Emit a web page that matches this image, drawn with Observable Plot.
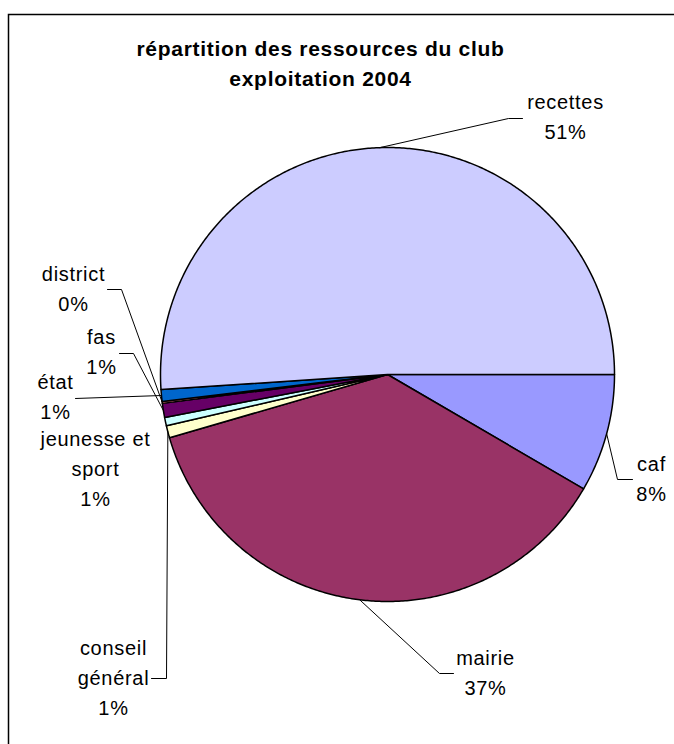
<!DOCTYPE html>
<html><head><meta charset="utf-8">
<script src="https://cdn.jsdelivr.net/npm/d3@7"></script>
<script src="https://cdn.jsdelivr.net/npm/@observablehq/plot@0.6"></script>
<style>
html,body{margin:0;padding:0;background:#fff;overflow:hidden;}
#chart svg{max-width:none !important;}
</style></head><body><div id="chart"></div>
<script>
// ---- data ----
const categories = ["caf", "mairie", "conseil général", "jeunesse et sport", "fas", "district", "état", "recettes"];
const labelNames = ["caf", "mairie", "conseil\ngénéral", "jeunesse et\nsport", "fas", "district", "état", "recettes"];
const values = [8.4, 37.1, 0.86, 0.6, 1.0, 0.14, 0.83, 51.05];
const colors = ["#9999FF", "#993366", "#FFFFCC", "#CCFFFF", "#660066", "#FF8080", "#0066CC", "#CCCCFF"];
const titleLines = ["répartition des ressources du club", "exploitation 2004"];

// ---- layout (pixels) ----
const W = 690, H = 760;
const CX = 387, CY = 374, R = 227;
const FONT = 'Arial, "Liberation Sans", sans-serif';
const titlePos = {x: 320, y: 85};
// label: center x, baseline of last line; leader: points after the pie edge
const labelLayout = {
  "caf": {x: 651, y: 500, leader: [[617, 479], [632, 479]]},
  "mairie": {x: 485, y: 694, leader: [[439, 673], [453, 673]]},
  "conseil général": {x: 113, y: 714, leader: [[166, 678], [151, 678]]},
  "jeunesse et sport": {x: 95, y: 505, leader: null},
  "fas": {x: 101, y: 373, leader: [[133, 353], [119, 353]]},
  "district": {x: 73, y: 310, leader: [[121, 289], [107, 289]]},
  "état": {x: 55, y: 418, leader: [[75, 398]]},
  "recettes": {x: 565, y: 138, leader: [[508, 118], [522, 118]]}
};
const px = (x) => (x - CX) / R;
const py = (y) => (y - CY) / R;

// ---- geometry from values ----
const total = d3.sum(values);
const ends = Array.from(d3.cumsum(values), (c) => c / total * 2 * Math.PI);
const starts = [0, ...ends.slice(0, -1)];

const slices = categories.map((c, i) => {
  const a0 = starts[i], a1 = ends[i];
  const n = Math.max(2, Math.ceil((a1 - a0) / (Math.PI / 360)));
  const pts = [{x: 0, y: 0}];
  for (let k = 0; k <= n; ++k) {
    const a = a0 + (a1 - a0) * k / n;
    pts.push({x: Math.cos(a), y: Math.sin(a)});
  }
  pts.push({x: 0, y: 0});
  return pts;
});

const labels = categories.map((c, i) => {
  const L = labelLayout[c];
  return {
    x: px(L.x), y: py(L.y),
    text: labelNames[i] + "\n" + Math.round(values[i] / total * 100) + "%"
  };
});

const leaders = categories.map((c, i) => {
  const L = labelLayout[c];
  if (!L.leader) return null;
  const mid = (starts[i] + ends[i]) / 2;
  return [{x: Math.cos(mid), y: Math.sin(mid)}, ...L.leader.map(([x, y]) => ({x: px(x), y: py(y)}))];
}).filter(Boolean);

const chart = Plot.plot({
  width: W, height: H,
  marginLeft: 8, marginTop: 14, marginRight: 0, marginBottom: 0,
  style: {fontFamily: FONT, background: "#fff", letterSpacing: "0.7px", maxWidth: "none"},
  x: {domain: [-1, 1], range: [CX - R, CX + R], axis: null},
  y: {domain: [-1, 1], range: [CY - R, CY + R], axis: null},
  marks: [
    Plot.frame({stroke: "#000", strokeWidth: 1.5}),
    ...slices.map((pts, i) => Plot.line(pts, {x: "x", y: "y", fill: colors[i], stroke: "#000", strokeWidth: 1.5, strokeLinejoin: "round"})),
    ...leaders.map((pts) => Plot.line(pts, {x: "x", y: "y", stroke: "#000", strokeWidth: 1})),
    Plot.text(labels, {x: "x", y: "y", text: "text", fontSize: 20, lineHeight: 1.5, lineAnchor: "bottom", textAnchor: "middle", fill: "#000"}),
    Plot.text([titleLines.join("\n")], {x: px(titlePos.x), y: py(titlePos.y), text: (d) => d, fontSize: 21, fontWeight: "bold", lineHeight: 1.4, lineAnchor: "bottom", textAnchor: "middle", fill: "#000"})
  ]
});
document.getElementById("chart").appendChild(chart);
</script></body></html>
